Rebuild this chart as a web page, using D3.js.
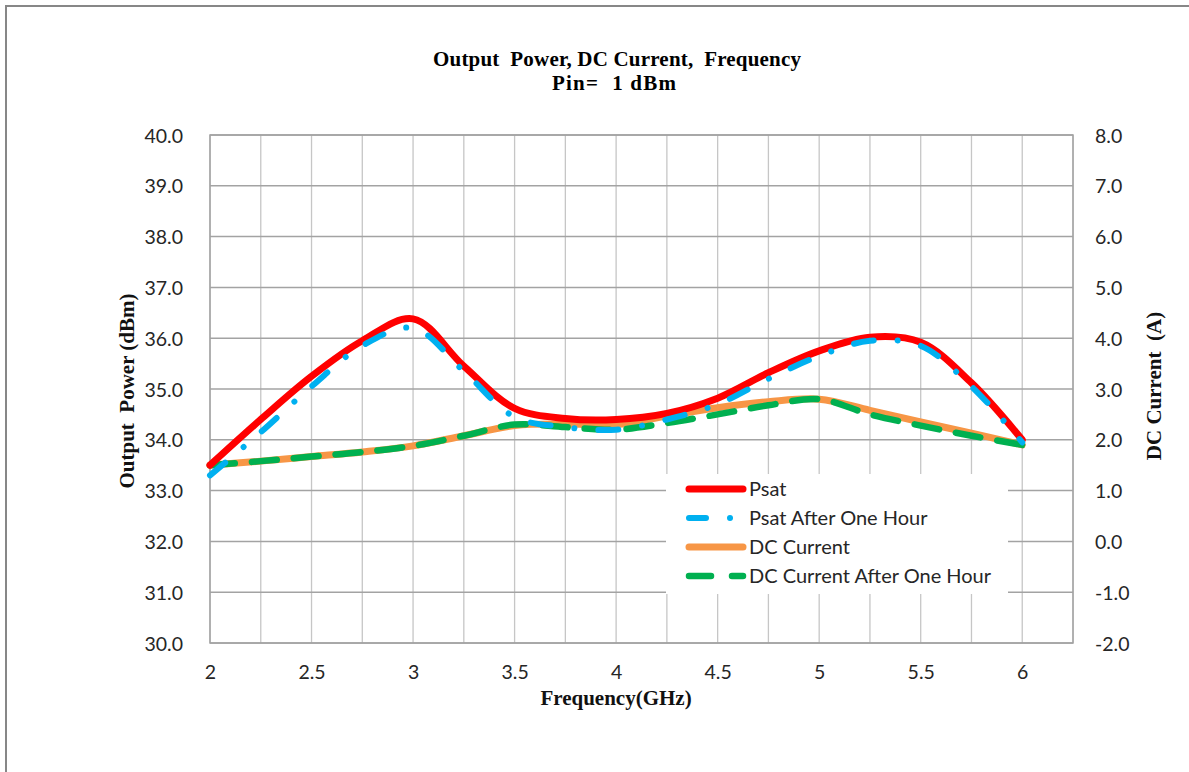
<!DOCTYPE html>
<html>
<head>
<meta charset="utf-8">
<script src="https://cdn.jsdelivr.net/npm/d3@7"></script>
<style>
  html, body { margin: 0; padding: 0; background: #fff; }
  svg { display: block; }
</style>
</head>
<body>
<svg id="chart" width="1189" height="772"></svg>
<script>
// ---- data ----
const freqs = [2.0, 2.25, 2.5, 2.75, 3.0, 3.25, 3.5, 3.75, 4.0, 4.25, 4.5, 4.75, 5.0, 5.25, 5.5, 5.75, 6.0];
const psat = [33.5, 34.4, 35.25, 35.95, 36.38, 35.45, 34.62, 34.42, 34.4, 34.52, 34.82, 35.32, 35.75, 36.02, 35.92, 35.12, 34.0];
const psatHour = [33.3, 34.15, 35.05, 35.85, 36.2, 35.35, 34.45, 34.25, 34.2, 34.4, 34.7, 35.2, 35.65, 35.95, 35.85, 35.05, 33.95];
const dcCurrent = [1.5, 1.58, 1.67, 1.76, 1.88, 2.08, 2.28, 2.31, 2.3, 2.47, 2.63, 2.75, 2.8, 2.58, 2.35, 2.13, 1.9];
const dcHour = [1.5, 1.58, 1.67, 1.76, 1.88, 2.08, 2.3, 2.25, 2.2, 2.33, 2.5, 2.68, 2.8, 2.5, 2.28, 2.08, 1.9];
const xTicks = [2, 2.5, 3, 3.5, 4, 4.5, 5, 5.5, 6];
const yLeftTicks = [30, 31, 32, 33, 34, 35, 36, 37, 38, 39, 40];
const yRightTicks = [-2, -1, 0, 1, 2, 3, 4, 5, 6, 7, 8];
const seriesNames = ["Psat", "Psat After One Hour", "DC Current", "DC Current After One Hour"];

const svg = d3.select("#chart");
const tickFont = "Lato, 'Open Sans', sans-serif";
const serif = "'Liberation Serif', 'Times New Roman', serif";
const fmt1 = v => d3.format(".1f")(v).replace("\u2212", "-");

// outer chart frame
svg.append("rect").attr("x", 6).attr("y", 6).attr("width", 1300).attr("height", 900)
  .attr("fill", "#fff").attr("stroke", "#878787").attr("stroke-width", 2);

const L = 210, R = 1073, T = 135, B = 643;
const x = d3.scaleLinear().domain([2, 6.25]).range([L, R]);
const yL = d3.scaleLinear().domain([30, 40]).range([B, T]);
const yR = d3.scaleLinear().domain([-2, 8]).range([B, T]);

// gridlines
const vgrid = d3.range(2, 6.26, 0.25);
svg.append("g").selectAll("line").data(vgrid).join("line")
  .attr("x1", d => x(d)).attr("x2", d => x(d)).attr("y1", T).attr("y2", B)
  .attr("stroke", "#c6c6c6").attr("stroke-width", 1.3);
svg.append("g").selectAll("line").data(yLeftTicks).join("line")
  .attr("x1", L).attr("x2", R).attr("y1", d => yL(d)).attr("y2", d => yL(d))
  .attr("stroke", "#a3a3a3").attr("stroke-width", 1.5);
svg.append("rect").attr("x", L).attr("y", T).attr("width", R - L).attr("height", B - T)
  .attr("fill", "none").attr("stroke", "#a3a3a3").attr("stroke-width", 1.5);

// axes
const gx = svg.append("g").attr("transform", `translate(0,${B})`)
  .call(d3.axisBottom(x).tickValues(xTicks).tickSize(0).tickPadding(0).tickFormat(d3.format("")));
gx.select(".domain").remove();
gx.selectAll("text").attr("y", 36).attr("dy", null);

const gyl = svg.append("g").attr("transform", `translate(${L},0)`)
  .call(d3.axisLeft(yL).tickValues(yLeftTicks).tickSize(0).tickFormat(fmt1));
gyl.select(".domain").remove();
gyl.selectAll("text").attr("x", -27).attr("dy", "0.36em");

const gyr = svg.append("g").attr("transform", `translate(${R},0)`)
  .call(d3.axisRight(yR).tickValues(yRightTicks).tickSize(0).tickFormat(fmt1));
gyr.select(".domain").remove();
gyr.selectAll("text").attr("x", 22).attr("dy", "0.36em");

svg.selectAll(".tick text").attr("font-family", tickFont).attr("font-size", 19.5).attr("fill", "#262626");

// series lines
const curve = d3.curveCatmullRom.alpha(0.5);
const lineL = d3.line().x((d, i) => x(freqs[i])).y(d => yL(d)).curve(curve);
const lineR = d3.line().x((d, i) => x(freqs[i])).y(d => yR(d)).curve(curve);

svg.append("path").attr("d", lineR(dcCurrent)).attr("fill", "none")
  .attr("stroke", "#f79646").attr("stroke-width", 7).attr("stroke-linecap", "round").attr("stroke-linejoin", "round");
svg.append("path").attr("d", lineR(dcHour)).attr("fill", "none")
  .attr("stroke", "#00b050").attr("stroke-width", 6.5).attr("stroke-linecap", "round")
  .attr("stroke-dasharray", "25,17");
svg.append("path").attr("d", lineL(psat)).attr("fill", "none")
  .attr("stroke", "#ff0000").attr("stroke-width", 7).attr("stroke-linecap", "round").attr("stroke-linejoin", "round");
svg.append("path").attr("d", lineL(psatHour)).attr("fill", "none")
  .attr("stroke", "#00b0f0").attr("stroke-width", 6).attr("stroke-linecap", "round")
  .attr("stroke-dasharray", "20,24,0.01,24");

// legend
svg.append("rect").attr("x", 666).attr("y", 474).attr("width", 342).attr("height", 120).attr("fill", "#fff");
const legendStyles = [
  { color: "#ff0000", w: 7, dash: null },
  { color: "#00b0f0", w: 6, dash: "17,24,0.01,30" },
  { color: "#f79646", w: 7, dash: null },
  { color: "#00b050", w: 6.5, dash: "22,21,20,30" }
];
const legendY = [489, 518, 547, 576];
const lg = svg.append("g");
seriesNames.forEach((name, i) => {
  const s = legendStyles[i];
  const ln = lg.append("line").attr("x1", 689).attr("x2", 743).attr("y1", legendY[i]).attr("y2", legendY[i])
    .attr("stroke", s.color).attr("stroke-width", s.w).attr("stroke-linecap", "round");
  if (s.dash) ln.attr("stroke-dasharray", s.dash);
  lg.append("text").attr("x", 749).attr("y", legendY[i]).attr("dy", "0.36em")
    .attr("font-family", tickFont).attr("font-size", 20).attr("fill", "#262626").text(name);
});

// titles
svg.append("text").attr("x", 617).attr("y", 66).attr("text-anchor", "middle")
  .attr("font-family", serif).attr("font-weight", "bold").attr("font-size", 21)
  .attr("textLength", 368).attr("lengthAdjust", "spacing")
  .style("white-space", "pre").text("Output  Power, DC Current,  Frequency");
svg.append("text").attr("x", 614).attr("y", 90).attr("text-anchor", "middle")
  .attr("font-family", serif).attr("font-weight", "bold").attr("font-size", 21)
  .attr("textLength", 124).attr("lengthAdjust", "spacing")
  .style("white-space", "pre").text("Pin=  1 dBm");

svg.append("text").attr("x", 616).attr("y", 705).attr("text-anchor", "middle")
  .attr("font-family", serif).attr("font-weight", "bold").attr("font-size", 21).attr("fill", "#111")
  .text("Frequency(GHz)");
svg.append("text").attr("transform", "translate(134,391) rotate(-90)").attr("text-anchor", "middle")
  .attr("font-family", serif).attr("font-weight", "bold").attr("font-size", 21).attr("fill", "#111")
  .style("white-space", "pre").text("Output  Power (dBm)");
svg.append("text").attr("transform", "translate(1161,386) rotate(-90)").attr("text-anchor", "middle")
  .attr("font-family", serif).attr("font-weight", "bold").attr("font-size", 21).attr("fill", "#111")
  .style("white-space", "pre").text("DC Current  (A)");
</script>
</body>
</html>
